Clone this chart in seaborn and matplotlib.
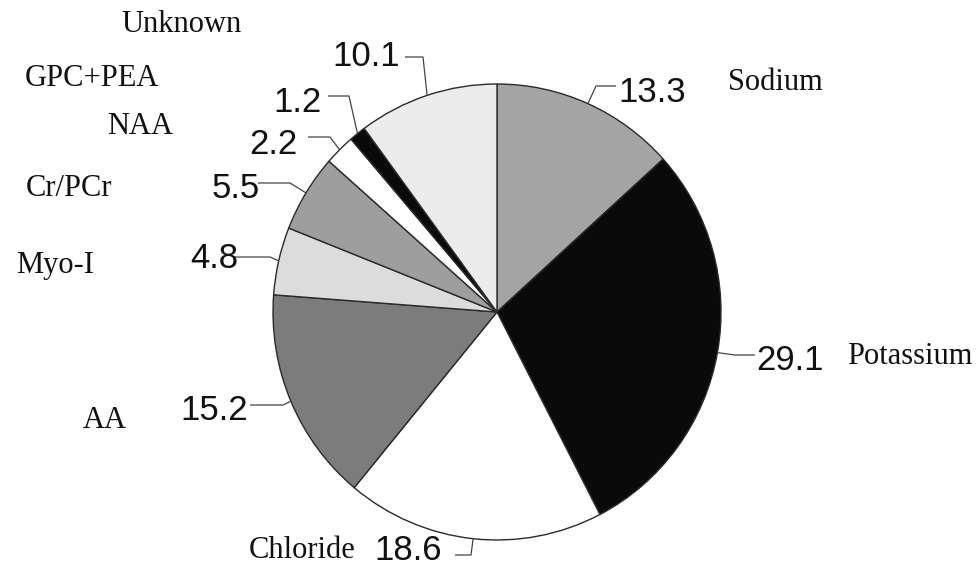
import numpy as np
import matplotlib
matplotlib.use("Agg")
import matplotlib.pyplot as plt
import seaborn as sns

# ---- data (clockwise from 12 o'clock) ----
categories = ["Sodium", "Potassium", "Chloride", "AA", "Myo-I",
              "Cr/PCr", "NAA", "GPC+PEA", "Unknown"]
values = [13.3, 29.1, 18.6, 15.2, 4.8, 5.5, 2.2, 1.2, 10.1]
value_labels = ["13.3", "29.1", "18.6", "15.2", "4.8", "5.5", "2.2", "1.2", "10.1"]

# ---- styles ----
fills = ["#a4a4a4", "#0a0a0a", "#ffffff", "#7c7c7c", "#dcdcdc",
         "#9e9e9e", "#ffffff", "#0a0a0a", "#ececec"]

# ---- layout (pixel positions in the 980x576 canvas) ----
W, H = 980, 576
CX, CY, RX, RY = 497, 312, 224, 228
num_pos = [(652, 92), (790, 360), (408, 550), (214, 411), (214, 258),
           (236, 188), (273, 145), (298, 103), (366, 57)]
name_pos = [(775, 83), (910, 357), (302, 551), (105, 421), (55, 265),
            (69, 188), (140, 127), (92, 79), (182, 25)]
elbows = [(596, 86), (735, 355), (471, 555), (283, 405), (270, 257),
          (290, 183), (330, 137), (349, 96), (423, 57)]
ends_x = [616, 755, 455, 250, 234, 258, 308, 328, 405]

sns.set_theme(style="white")
plt.rcParams["font.family"] = ["Liberation Sans", "DejaVu Sans"]

fig = plt.figure(figsize=(W / 100, H / 100), dpi=100)
ax = fig.add_axes([0, 0, 1, 1])

wedges, _ = ax.pie(values, startangle=90, counterclock=False, colors=fills,
                   wedgeprops=dict(edgecolor="#2a2a2a", linewidth=1.0))

ax.set_xlim(-CX / RX, (W - CX) / RX)
ax.set_ylim(-(H - CY) / RY, CY / RY)
ax.set_aspect("auto")
ax.axis("off")


def px2d(px, py):
    return (px - CX) / RX, (CY - py) / RY


for i, w in enumerate(wedges):
    mid = np.deg2rad((w.theta1 + w.theta2) / 2)
    ex, ey = np.cos(mid), np.sin(mid)
    bx, by = px2d(*elbows[i])
    tx, _ = px2d(ends_x[i], elbows[i][1])
    ax.plot([ex, bx, tx], [ey, by, by], color="#444444", lw=0.9,
            solid_capstyle="butt")
    nx, ny = px2d(*num_pos[i])
    ax.text(nx, ny, value_labels[i], ha="center", va="center",
            fontsize=25, color="#111111", family=["Liberation Sans", "DejaVu Sans"])
    cx_, cy_ = px2d(*name_pos[i])
    ax.text(cx_, cy_, categories[i], ha="center", va="center",
            fontsize=22, color="#111111", family=["Liberation Serif", "DejaVu Serif"])

fig.savefig("out.png", dpi=100, facecolor="white")
